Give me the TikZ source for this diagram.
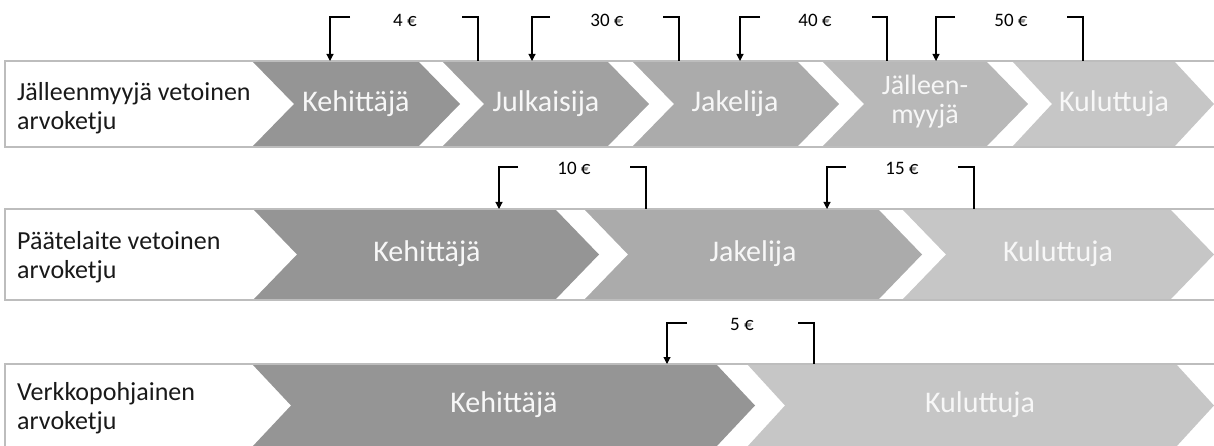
\documentclass[tikz,border=0pt]{standalone}
\usepackage{fontspec}
\setmainfont{Carlito}
\usetikzlibrary{arrows.meta}
\definecolor{cA}{HTML}{959595}
\definecolor{cB}{HTML}{A1A1A1}
\definecolor{cC}{HTML}{ABABAB}
\definecolor{cD}{HTML}{B8B8B8}
\definecolor{cE}{HTML}{C6C6C6}
\definecolor{frameC}{HTML}{BDBDBD}
\definecolor{chevtxt}{HTML}{F7F7F7}
\newcommand{\chevshape}[6]{%
  \fill[#6] (#1,#3) -- (#2,#3) -- ({#2+#5},{(#3+#4)/2}) -- (#2,#4) -- (#1,#4) -- ({#1+#5},{(#3+#4)/2}) -- cycle;}
\begin{document}
\begin{tikzpicture}[x=1pt,y=-1pt,
  chevtext/.style={text=chevtxt,font=\fontsize{30}{29}\selectfont,align=center,inner sep=0pt},
  lbl/.style={anchor=west,align=left,text=black!90,font=\fontsize{26}{29}\selectfont,inner sep=0pt},
  eur/.style={text=black,font=\fontsize{19}{20}\selectfont,inner sep=0pt},
  pay/.style={draw=black,line width=1.1pt,-{Triangle[length=7pt,width=7pt]}},
  back/.style={draw=black,line width=1.1pt},
  framebox/.style={draw=frameC,line width=1.5pt}]
\useasboundingbox (0,0) rectangle (1214,446);
% ---------- row 1 ----------
\chevshape{252}{418}{61}{147}{42}{cA}
\chevshape{442}{607}{61}{147}{42}{cB}
\chevshape{632}{797}{61}{147}{42}{cC}
\chevshape{822}{986}{61}{147}{42}{cD}
\chevshape{1012}{1174}{61}{147}{40}{cE}
\draw[framebox] (1216,61) -- (5,61) -- (5,147) -- (1216,147);
\node[lbl] (r1lab) at (17,108) {Jälleenmyyjä vetoinen\\arvoketju};
\node[chevtext] (r1k) at (356,104) {Kehittäjä};
\node[chevtext] (r1j) at (546,104) {Julkaisija};
\node[chevtext] (r1a) at (735,104) {Jakelija};
\node[chevtext,font=\fontsize{28}{29}\selectfont] (r1m) at (925,102) {Jälleen-\\myyjä};
\node[chevtext] (r1c) at (1114,104) {Kuluttuja};
% payments row 1
\node[eur] (e4) at (405,20) {4 €};
\node[eur] (e30) at (607,20) {30 €};
\node[eur] (e40) at (815,20) {40 €};
\node[eur] (e50) at (1011,20) {50 €};
\coordinate (p1a) at (350,17);  \coordinate (t1a) at (330,61);
\coordinate (q1a) at (462,17);  \coordinate (s1a) at (478,61);
\coordinate (p1b) at (550,17);  \coordinate (t1b) at (532,61);
\coordinate (q1b) at (663,17);  \coordinate (s1b) at (679,61);
\coordinate (p1c) at (760,17);  \coordinate (t1c) at (740,61);
\coordinate (q1c) at (872,17);  \coordinate (s1c) at (887,61);
\coordinate (p1d) at (955,17);  \coordinate (t1d) at (936,61);
\coordinate (q1d) at (1067,17); \coordinate (s1d) at (1083,61);
\draw[pay] (p1a) -| (t1a);  \draw[back] (q1a) -| (s1a);
\draw[pay] (p1b) -| (t1b);  \draw[back] (q1b) -| (s1b);
\draw[pay] (p1c) -| (t1c);  \draw[back] (q1c) -| (s1c);
\draw[pay] (p1d) -| (t1d);  \draw[back] (q1d) -| (s1d);
% ---------- row 2 ----------
\chevshape{253}{555}{209}{300}{44}{cA}
\chevshape{584}{878}{209}{300}{44}{cC}
\chevshape{902}{1170}{209}{300}{44}{cE}
\draw[framebox] (1216,209) -- (5,209) -- (5,300) -- (1216,300);
\node[lbl] (r2lab) at (17,257) {Päätelaite vetoinen\\arvoketju};
\node[chevtext] (r2k) at (427,254) {Kehittäjä};
\node[chevtext] (r2a) at (753,254) {Jakelija};
\node[chevtext] (r2c) at (1058,254) {Kuluttuja};
\node[eur] (e10) at (574,168) {10 €};
\node[eur] (e15) at (902,168) {15 €};
\coordinate (p2a) at (518,167); \coordinate (t2a) at (499,209);
\coordinate (q2a) at (630,167); \coordinate (s2a) at (646,209);
\coordinate (p2b) at (846,167); \coordinate (t2b) at (827,209);
\coordinate (q2b) at (958,167); \coordinate (s2b) at (974,209);
\draw[pay] (p2a) -| (t2a);  \draw[back] (q2a) -| (s2a);
\draw[pay] (p2b) -| (t2b);  \draw[back] (q2b) -| (s2b);
% ---------- row 3 ----------
\chevshape{252}{716}{364}{447}{39}{cA}
\chevshape{747}{1176}{364}{447}{38}{cE}
\draw[framebox] (1216,364) -- (5,364) -- (5,448);
\node[lbl] (r3lab) at (17,408) {Verkkopohjainen\\arvoketju};
\node[chevtext] (r3k) at (504,405) {Kehittäjä};
\node[chevtext] (r3c) at (980,405) {Kuluttuja};
\node[eur] (e5) at (742,324) {5 €};
\coordinate (p3a) at (687,323); \coordinate (t3a) at (667,364);
\coordinate (q3a) at (798,323); \coordinate (s3a) at (814,364);
\draw[pay] (p3a) -| (t3a);  \draw[back] (q3a) -| (s3a);
\end{tikzpicture}
\end{document}
